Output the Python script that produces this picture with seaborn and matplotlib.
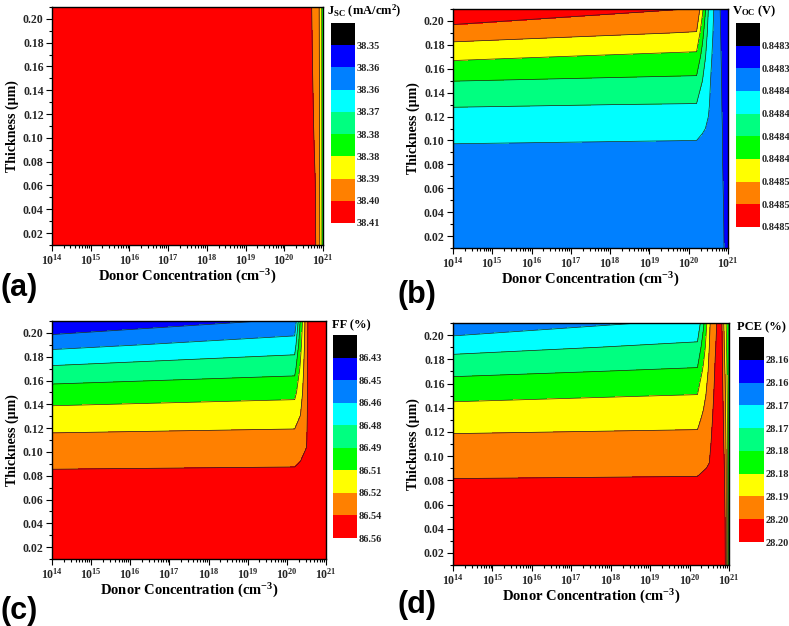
import numpy as np
import matplotlib
matplotlib.use("Agg")
import matplotlib.pyplot as plt
import seaborn as sns
from matplotlib.colors import ListedColormap, BoundaryNorm
from matplotlib.cm import ScalarMappable
from matplotlib.ticker import FixedLocator, FuncFormatter

sns.set_theme(style="ticks")
plt.rcParams["font.family"] = ["Liberation Serif", "DejaVu Serif"]
plt.rcParams["font.weight"] = "bold"
plt.rcParams["mathtext.fontset"] = "custom"
plt.rcParams["mathtext.rm"] = "Liberation Serif:bold"
plt.rcParams["mathtext.it"] = "Liberation Serif:bold"
plt.rcParams["mathtext.bf"] = "Liberation Serif:bold"
plt.rcParams["mathtext.default"] = "rm"

# grid: log10(donor concentration) x thickness (um)
donor_log = [14, 20.2, 20.35, 20.5, 20.65, 20.8, 20.9, 21]
thickness = [0.01, 0.05, 0.09, 0.11, 0.13, 0.15, 0.17, 0.19, 0.21]

# Jsc (mA/cm2), rows = thickness, cols = donor_log
jsc = [
    [38.4032, 38.4032, 38.4029, 38.4021, 38.4011, 38.3996, 38.3939, 38.3809],
    [38.4032, 38.4032, 38.4029, 38.4021, 38.4010, 38.3991, 38.3935, 38.3809],
    [38.4032, 38.4032, 38.4029, 38.4021, 38.4008, 38.3985, 38.3931, 38.3809],
    [38.4032, 38.4032, 38.4029, 38.4021, 38.4007, 38.3982, 38.3929, 38.3809],
    [38.4032, 38.4032, 38.4029, 38.4021, 38.4007, 38.3979, 38.3926, 38.3809],
    [38.4032, 38.4032, 38.4029, 38.4021, 38.4006, 38.3976, 38.3924, 38.3809],
    [38.4032, 38.4032, 38.4029, 38.4021, 38.4005, 38.3973, 38.3922, 38.3809],
    [38.4032, 38.4032, 38.4029, 38.4021, 38.4004, 38.3970, 38.3920, 38.3809],
    [38.4032, 38.4032, 38.4029, 38.4021, 38.4003, 38.3967, 38.3917, 38.3809],
]

# Voc (V)
voc = [
    [0.848331, 0.848329, 0.848329, 0.848331, 0.848336, 0.848334, 0.848328, 0.848314],
    [0.848338, 0.848336, 0.848335, 0.848336, 0.848339, 0.848333, 0.848327, 0.848314],
    [0.848349, 0.848347, 0.848346, 0.848345, 0.848342, 0.848332, 0.848325, 0.848314],
    [0.848367, 0.848364, 0.848358, 0.848353, 0.848343, 0.848332, 0.848325, 0.848314],
    [0.848385, 0.848382, 0.848369, 0.848358, 0.848345, 0.848331, 0.848324, 0.848314],
    [0.848411, 0.848405, 0.848383, 0.848361, 0.848346, 0.848331, 0.848323, 0.848314],
    [0.848443, 0.848431, 0.848400, 0.848368, 0.848347, 0.848330, 0.848322, 0.848314],
    [0.848479, 0.848464, 0.848419, 0.848375, 0.848350, 0.848329, 0.848321, 0.848314],
    [0.848519, 0.848492, 0.848444, 0.848383, 0.848353, 0.848328, 0.848320, 0.848314],
]

# FF (%)
ff = [
    [86.5633, 86.5633, 86.5633, 86.5633, 86.5586, 86.5586, 86.5586, 86.5586],
    [86.5555, 86.5555, 86.5571, 86.5586, 86.5586, 86.5586, 86.5586, 86.5586],
    [86.5380, 86.5389, 86.5408, 86.5431, 86.5586, 86.5586, 86.5586, 86.5586],
    [86.5282, 86.5296, 86.5338, 86.5385, 86.5586, 86.5586, 86.5586, 86.5586],
    [86.5158, 86.5186, 86.5250, 86.5369, 86.5586, 86.5586, 86.5586, 86.5586],
    [86.5003, 86.5048, 86.5183, 86.5361, 86.5586, 86.5586, 86.5586, 86.5586],
    [86.4809, 86.4885, 86.5121, 86.5354, 86.5586, 86.5586, 86.5586, 86.5586],
    [86.4579, 86.4704, 86.5044, 86.5346, 86.5586, 86.5586, 86.5586, 86.5586],
    [86.4326, 86.4493, 86.4966, 86.5338, 86.5586, 86.5586, 86.5586, 86.5586],
]

# PCE (%)
pce = [
    [28.2036, 28.2036, 28.2036, 28.2036, 28.2036, 28.2019, 28.1964, 28.1761],
    [28.1997, 28.1997, 28.2003, 28.2008, 28.2019, 28.2011, 28.1952, 28.1772],
    [28.1941, 28.1944, 28.1950, 28.1956, 28.1992, 28.2003, 28.1942, 28.1783],
    [28.1913, 28.1917, 28.1928, 28.1942, 28.1981, 28.1998, 28.1931, 28.1788],
    [28.1878, 28.1885, 28.1909, 28.1931, 28.1972, 28.1994, 28.1920, 28.1788],
    [28.1831, 28.1845, 28.1882, 28.1920, 28.1964, 28.1990, 28.1909, 28.1788],
    [28.1776, 28.1796, 28.1854, 28.1909, 28.1957, 28.1986, 28.1895, 28.1788],
    [28.1715, 28.1745, 28.1816, 28.1898, 28.1950, 28.1981, 28.1879, 28.1788],
    [28.1636, 28.1691, 28.1777, 28.1890, 28.1945, 28.1976, 28.1863, 28.1788],
]

# contour levels (first one is the unlabeled top of the black band)
jsc_levels = [38.3413, 38.3485, 38.3557, 38.3629, 38.3701, 38.3773, 38.3845, 38.3917, 38.3989, 38.4061]
voc_levels = [0.848273, 0.8483005, 0.848328, 0.8483555, 0.848383, 0.8484105, 0.848438, 0.8484655, 0.848493, 0.8485205]
ff_levels = [86.4160, 86.4315, 86.4470, 86.4625, 86.4780, 86.4935, 86.5090, 86.5245, 86.5400, 86.5555]
pce_levels = [28.1513, 28.1568, 28.1623, 28.1678, 28.1733, 28.1788, 28.1843, 28.1898, 28.1953, 28.2008]

band_colors = ["#000000", "#0000FF", "#0080FF", "#00FFFF", "#00FF80",
               "#00FF00", "#FFFF00", "#FF8000", "#FF0000"]

W, H = 789, 626


def rect(l, t, r, b):
    return [l / W, 1 - b / H, (r - l) / W, (b - t) / H]


panels = [
    dict(z=jsc, levels=jsc_levels, fmt="{:.2f}", title="J$_{SC}$ (mA/cm$^{2}$)",
         ax=(52, 7, 323, 245), cax=(331, 23, 355, 223), title_xy=(327, 11),
         tag="(a)", tag_xy=(0, 288)),
    dict(z=voc, levels=voc_levels, fmt="{:.4f}", title="V$_{OC}$ (V)",
         ax=(453, 9, 728, 248), cax=(736, 23, 760, 227), title_xy=(732, 11),
         tag="(b)", tag_xy=(398, 295)),
    dict(z=ff, levels=ff_levels, fmt="{:.2f}", title="FF (%)",
         ax=(52, 321, 326, 559), cax=(333, 335, 357, 538), title_xy=(332, 325),
         tag="(c)", tag_xy=(0, 611)),
    dict(z=pce, levels=pce_levels, fmt="{:.2f}", title="PCE (%)",
         ax=(453, 323, 729, 565), cax=(739, 337, 764, 542), title_xy=(737, 327),
         tag="(d)", tag_xy=(398, 605)),
]

fig = plt.figure(figsize=(W / 100, H / 100), dpi=100)

x_major = list(range(14, 22))
x_minor = [n + np.log10(k) for n in range(14, 21) for k in range(2, 10)]
y_major = np.arange(0.02, 0.201, 0.02)
y_minor = np.arange(0.01, 0.211, 0.02)

for p in panels:
    ax = fig.add_axes(rect(*p["ax"]))
    z = np.array(p["z"])
    lev = p["levels"]
    ax.contourf(donor_log, thickness, z, levels=lev,
                colors=[band_colors[0]] + band_colors + [band_colors[-1]],
                extend="both")
    ax.contour(donor_log, thickness, z, levels=lev[1:-1], colors="#202020",
               linewidths=0.5)
    ax.set_xlim(14, 21)
    ax.set_ylim(0.01, 0.21)

    ax.xaxis.set_major_locator(FixedLocator(x_major))
    ax.xaxis.set_minor_locator(FixedLocator(x_minor))
    ax.xaxis.set_major_formatter(FuncFormatter(lambda v, pos: "10$^{%d}$" % round(v)))
    ax.yaxis.set_major_locator(FixedLocator(y_major))
    ax.yaxis.set_minor_locator(FixedLocator(y_minor))
    ax.yaxis.set_major_formatter(FuncFormatter(lambda v, pos: "%.2f" % v))
    ax.tick_params(which="both", direction="out", top=False, right=False,
                   width=0.8, color="black", labelsize=8.5, pad=2)
    ax.tick_params(which="major", length=4)
    ax.tick_params(which="minor", length=2)
    for lab in ax.get_xticklabels() + ax.get_yticklabels():
        lab.set_fontweight("bold")
    for s in ax.spines.values():
        s.set_color("black")
        s.set_linewidth(1.0)

    ax.set_xlabel("Donor Concentration (cm$^{-3}$)", fontsize=10.5,
                  fontweight="bold", labelpad=0, color="black")
    ax.set_ylabel("Thickness (\u00b5m)", fontsize=10, fontweight="bold",
                  labelpad=3, color="black")

    # colour bar, low values on top
    cax = fig.add_axes(rect(*p["cax"]))
    cmap = ListedColormap(band_colors)
    norm = BoundaryNorm(lev, cmap.N)
    sm = ScalarMappable(norm=norm, cmap=cmap)
    cb = fig.colorbar(sm, cax=cax, ticks=lev[1:])
    cb.ax.invert_yaxis()
    cb.ax.minorticks_off()
    cb.set_ticklabels([p["fmt"].format(v) for v in lev[1:]])
    cb.outline.set_visible(False)
    cb.ax.tick_params(which="both", length=0, labelsize=7.5, pad=1)
    for lab in cb.ax.get_yticklabels():
        lab.set_fontweight("bold")

    tx, ty = p["title_xy"]
    fig.text(tx / W, 1 - ty / H, p["title"], fontsize=9, fontweight="bold",
             ha="left", va="center", color="black")
    gx, gy = p["tag_xy"]
    fig.text(gx / W, 1 - gy / H, p["tag"], fontsize=22, fontweight="bold",
             family=["Liberation Sans", "DejaVu Sans"], ha="left", va="center",
             color="black")

fig.savefig("out.png", dpi=100, facecolor="white")
